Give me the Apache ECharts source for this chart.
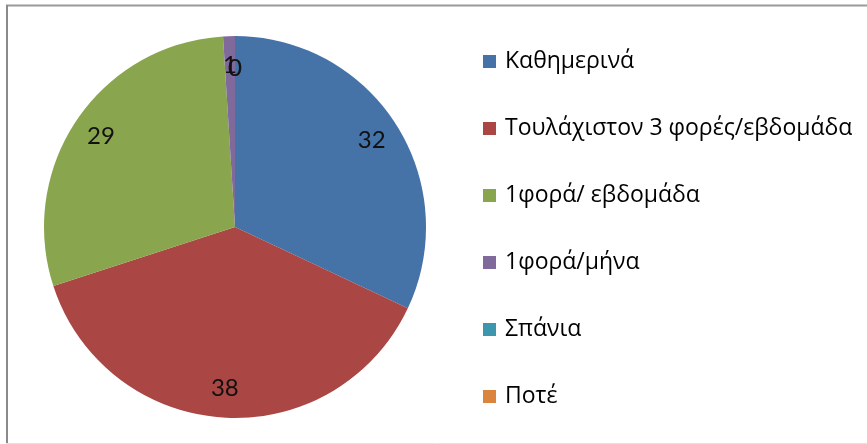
<!DOCTYPE html>
<html>
<head>
<meta charset="utf-8">
<script src="https://cdn.jsdelivr.net/npm/echarts@6/dist/echarts.min.js"></script>
<style>
html,body{margin:0;padding:0;background:#fff;}
#chart{width:867px;height:444px;}
</style>
</head>
<body>
<div id="chart"></div>
<script>
const categories = ["Καθημερινά", "Τουλάχιστον 3 φορές/εβδομάδα", "1φορά/ εβδομάδα", "1φορά/μήνα", "Σπάνια", "Ποτέ"];
const values = [32, 38, 29, 1, 0, 0];
const colors = ["#4572A7", "#AA4643", "#89A54E", "#80699B", "#3D96AE", "#DB843D"];

const CENTER = [235, 227];
const R = 191;
const LABEL_R = 159;
const FONT = '"Open Sans", Lato, sans-serif';
const LFONT = 'Lato, "Open Sans", sans-serif';

const chart = echarts.init(document.getElementById('chart'), null, {renderer: 'canvas'});
const total = values.reduce((a, b) => a + b, 0);
const dataFill = categories.map((c, i) => ({name: c, value: values[i], itemStyle: {color: colors[i]}}));
const dataLabel = categories.map((c, i) => ({name: c, value: values[i]}));
// zero-value slices get no pie label in ECharts; place their labels at their (zero-width) slice angle
const zeroLabels = [];
let cum = 0;
values.forEach((v, i) => {
  cum += v;
  if (v === 0) zeroLabels.push({name: categories[i], value: [LABEL_R, cum], label: {formatter: String(v)}});
});
const labelStyle = {fontFamily: LFONT, fontSize: 24, color: '#111', padding: [4, 0, 0, 0]};

chart.setOption({
  animation: false,
  backgroundColor: '#fff',
  color: colors,
  legend: {
    orient: 'vertical',
    left: 478,
    top: 45,
    icon: 'rect',
    itemWidth: 13,
    itemHeight: 13,
    itemGap: 44,
    selectedMode: false,
    data: categories,
    textStyle: {fontFamily: FONT, fontSize: 23, color: '#000', lineHeight: 22, padding: [0, 0, 0, 4]}
  },
  polar: {center: CENTER, radius: R},
  angleAxis: {type: 'value', min: 0, max: total, startAngle: 90, clockwise: true, show: false},
  radiusAxis: {type: 'value', min: 0, max: R, show: false},
  graphic: [
    {type: 'line', shape: {x1: 6, y1: 5.5, x2: 867, y2: 5.5}, style: {stroke: '#9a9a9a', lineWidth: 2}},
    {type: 'line', shape: {x1: 7, y1: 5, x2: 7, y2: 444}, style: {stroke: '#8a8a8a', lineWidth: 2}},
    {type: 'line', shape: {x1: 6, y1: 443.5, x2: 867, y2: 443.5}, style: {stroke: '#e2e2e2', lineWidth: 1}}
  ],
  series: [
    {
      type: 'pie',
      center: CENTER,
      radius: [0, R],
      startAngle: 90,
      clockwise: true,
      avoidLabelOverlap: false,
      label: {show: false},
      labelLine: {show: false},
      emphasis: {disabled: true},
      silent: true,
      data: dataFill
    },
    {
      type: 'pie',
      center: CENTER,
      radius: [2 * LABEL_R - R, R],
      startAngle: 90,
      clockwise: true,
      avoidLabelOverlap: false,
      itemStyle: {color: 'rgba(0,0,0,0)'},
      label: Object.assign({show: true, position: 'inside', formatter: '{c}'}, labelStyle),
      labelLine: {show: false},
      emphasis: {disabled: true},
      silent: true,
      legendHoverLink: false,
      data: dataLabel
    },
    {
      type: 'scatter',
      coordinateSystem: 'polar',
      symbolSize: 1,
      itemStyle: {color: 'rgba(0,0,0,0)'},
      label: Object.assign({show: true, position: 'inside'}, labelStyle),
      emphasis: {disabled: true},
      silent: true,
      data: zeroLabels
    }
  ]
});
</script>
</body>
</html>
